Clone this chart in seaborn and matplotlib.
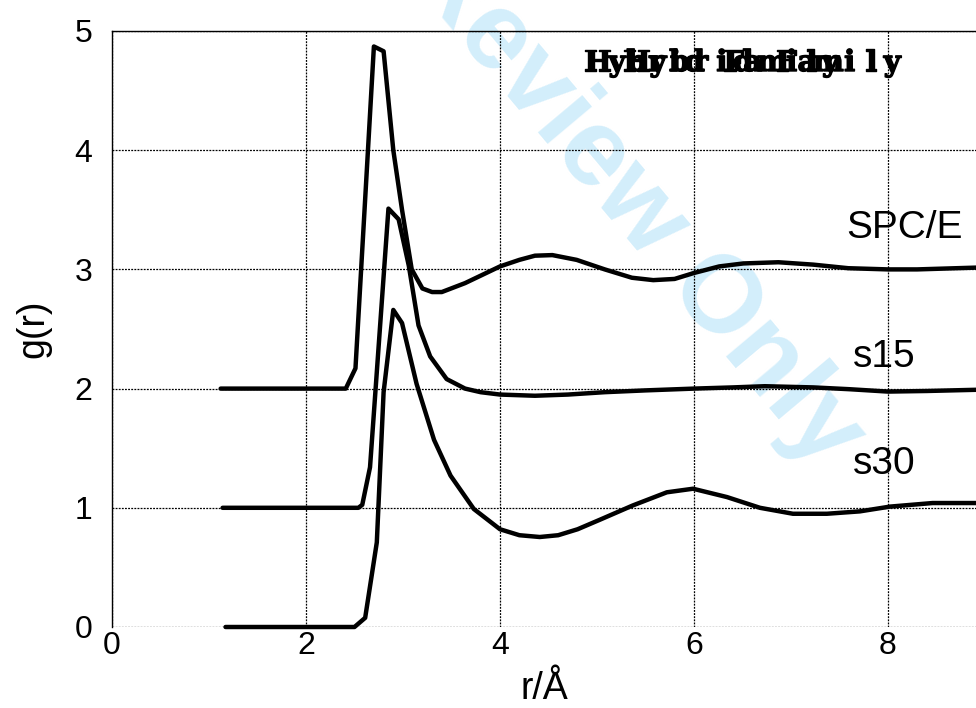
import matplotlib
matplotlib.use("Agg")
import matplotlib.pyplot as plt
import matplotlib.patheffects as pe
import numpy as np
import pandas as pd
import seaborn as sns

# Radial distribution functions g(r); each curve is shifted up by its offset
r_spce = [1.12, 2.41, 2.51, 2.70, 2.80, 2.90, 2.99, 3.09, 3.20, 3.30, 3.40, 3.64,
          4.00, 4.20, 4.36, 4.54, 4.79, 5.08, 5.36, 5.58, 5.80, 6.00, 6.26, 6.51,
          6.87, 7.23, 7.59, 8.00, 8.30, 8.91]
g_spce = [0.0, 0.0, 0.17, 2.87, 2.83, 2.0, 1.5, 1.0, 0.84, 0.81, 0.81, 0.885,
          1.025, 1.08, 1.115, 1.12, 1.08, 1.0, 0.93, 0.91, 0.92, 0.97, 1.025, 1.05,
          1.06, 1.04, 1.01, 1.0, 1.0, 1.015]

r_s15 = [1.14, 2.54, 2.58, 2.66, 2.85, 2.955, 3.06, 3.16, 3.28, 3.45, 3.64, 3.80,
         4.00, 4.36, 4.70, 5.08, 5.50, 6.00, 6.40, 6.73, 7.23, 7.60, 8.00, 8.40, 8.91]
g_s15 = [0.0, 0.0, 0.025, 0.34, 2.51, 2.42, 2.03, 1.53, 1.27, 1.08, 1.0, 0.97,
         0.95, 0.94, 0.95, 0.97, 0.985, 1.0, 1.01, 1.02, 1.01, 0.995, 0.975, 0.98, 0.99]

r_s30 = [1.17, 2.50, 2.61, 2.73, 2.80, 2.90, 2.99, 3.14, 3.32, 3.49, 3.73, 4.00,
         4.20, 4.41, 4.60, 4.80, 5.03, 5.37, 5.72, 5.99, 6.34, 6.68, 7.02, 7.37,
         7.71, 8.02, 8.46, 8.91]
g_s30 = [0.0, 0.0, 0.077, 0.71, 1.97, 2.66, 2.55, 2.04, 1.57, 1.27, 0.99, 0.82,
         0.77, 0.755, 0.77, 0.82, 0.90, 1.02, 1.13, 1.16, 1.09, 1.0, 0.95, 0.95,
         0.97, 1.01, 1.04, 1.04]

models = ["SPC/E", "s15", "s30"]
offsets = [2, 1, 0]
label_x = [7.57, 7.64, 7.64]
label_y = [3.26, 2.18, 1.28]

x_ticks = [0, 2, 4, 6, 8]
y_ticks = [0, 1, 2, 3, 4, 5]
title = "Hybrid Family"
watermark = "For Review Only"

frames = []
for name, off, r, g in zip(models, offsets, [r_spce, r_s15, r_s30], [g_spce, g_s15, g_s30]):
    frames.append(pd.DataFrame({"r": r, "g": np.array(g) + off, "model": name}))
df = pd.concat(frames, ignore_index=True)

sns.set_theme(style="white")
plt.rcParams["font.family"] = ["Liberation Sans", "DejaVu Sans"]

W, H = 976, 708
fig = plt.figure(figsize=(W / 100, H / 100), dpi=100)
ax = fig.add_axes([112 / W, 1 - 627 / H, (W - 112) / W, (627 - 31) / H])
ax.set_facecolor("none")
ax.set_zorder(1)

# faint diagonal watermark behind the plot
fig.text(270 / W, 1 + 187 / H, watermark, fontsize=79, fontweight="bold",
         color="#d3eefb", rotation=-50, rotation_mode="anchor", ha="left",
         va="baseline", zorder=0, family=["Liberation Sans"])

for name in models:
    sub = df[df["model"] == name]
    sns.lineplot(data=sub, x="r", y="g", ax=ax, color="black", linewidth=3.2,
                 sort=False, estimator=None, legend=False, zorder=3, clip_on=False)

ax.set_xlim(0, (W - 112) / 97)
ax.set_ylim(0, 5)
ax.set_xticks(x_ticks)
ax.set_yticks(y_ticks)
ax.set_xticklabels([str(t) for t in x_ticks])
ax.set_yticklabels([str(t) for t in y_ticks])
ax.tick_params(axis="both", length=0, labelsize=23, colors="black")
ax.tick_params(axis="x", pad=3)
ax.tick_params(axis="y", pad=14)

ax.grid(True, color="black", linewidth=0.9, linestyle=(0, (1.5, 1.0)))
for s in ["left", "top"]:
    ax.spines[s].set_visible(True)
    ax.spines[s].set_color("black")
    ax.spines[s].set_linewidth(1.0)
ax.spines["right"].set_visible(False)
ax.spines["bottom"].set_visible(False)

ax.set_xlabel("r/Å", fontsize=27, color="black", labelpad=7)
ax.set_ylabel("g(r)", fontsize=27, color="black", labelpad=17)

for name, lx, ly in zip(models, label_x, label_y):
    ax.text(lx, ly, name, fontsize=28, color="black", ha="left", va="baseline", zorder=4)

# title set in fixed-pitch cells, printed twice with different pitch
heavy = [pe.withStroke(linewidth=1.0, foreground="black")]
for start, pitch in ((588, 19.4), (626, 21.3)):
    for i, ch in enumerate(title):
        if ch == " ":
            continue
        fig.text((start + (i + 0.5) * pitch) / W, 1 - 71 / H, ch, fontsize=21,
                 fontweight="bold", family=["DejaVu Serif"], color="black",
                 ha="center", va="baseline", zorder=5, path_effects=heavy)

fig.savefig("out.png", dpi=100)
